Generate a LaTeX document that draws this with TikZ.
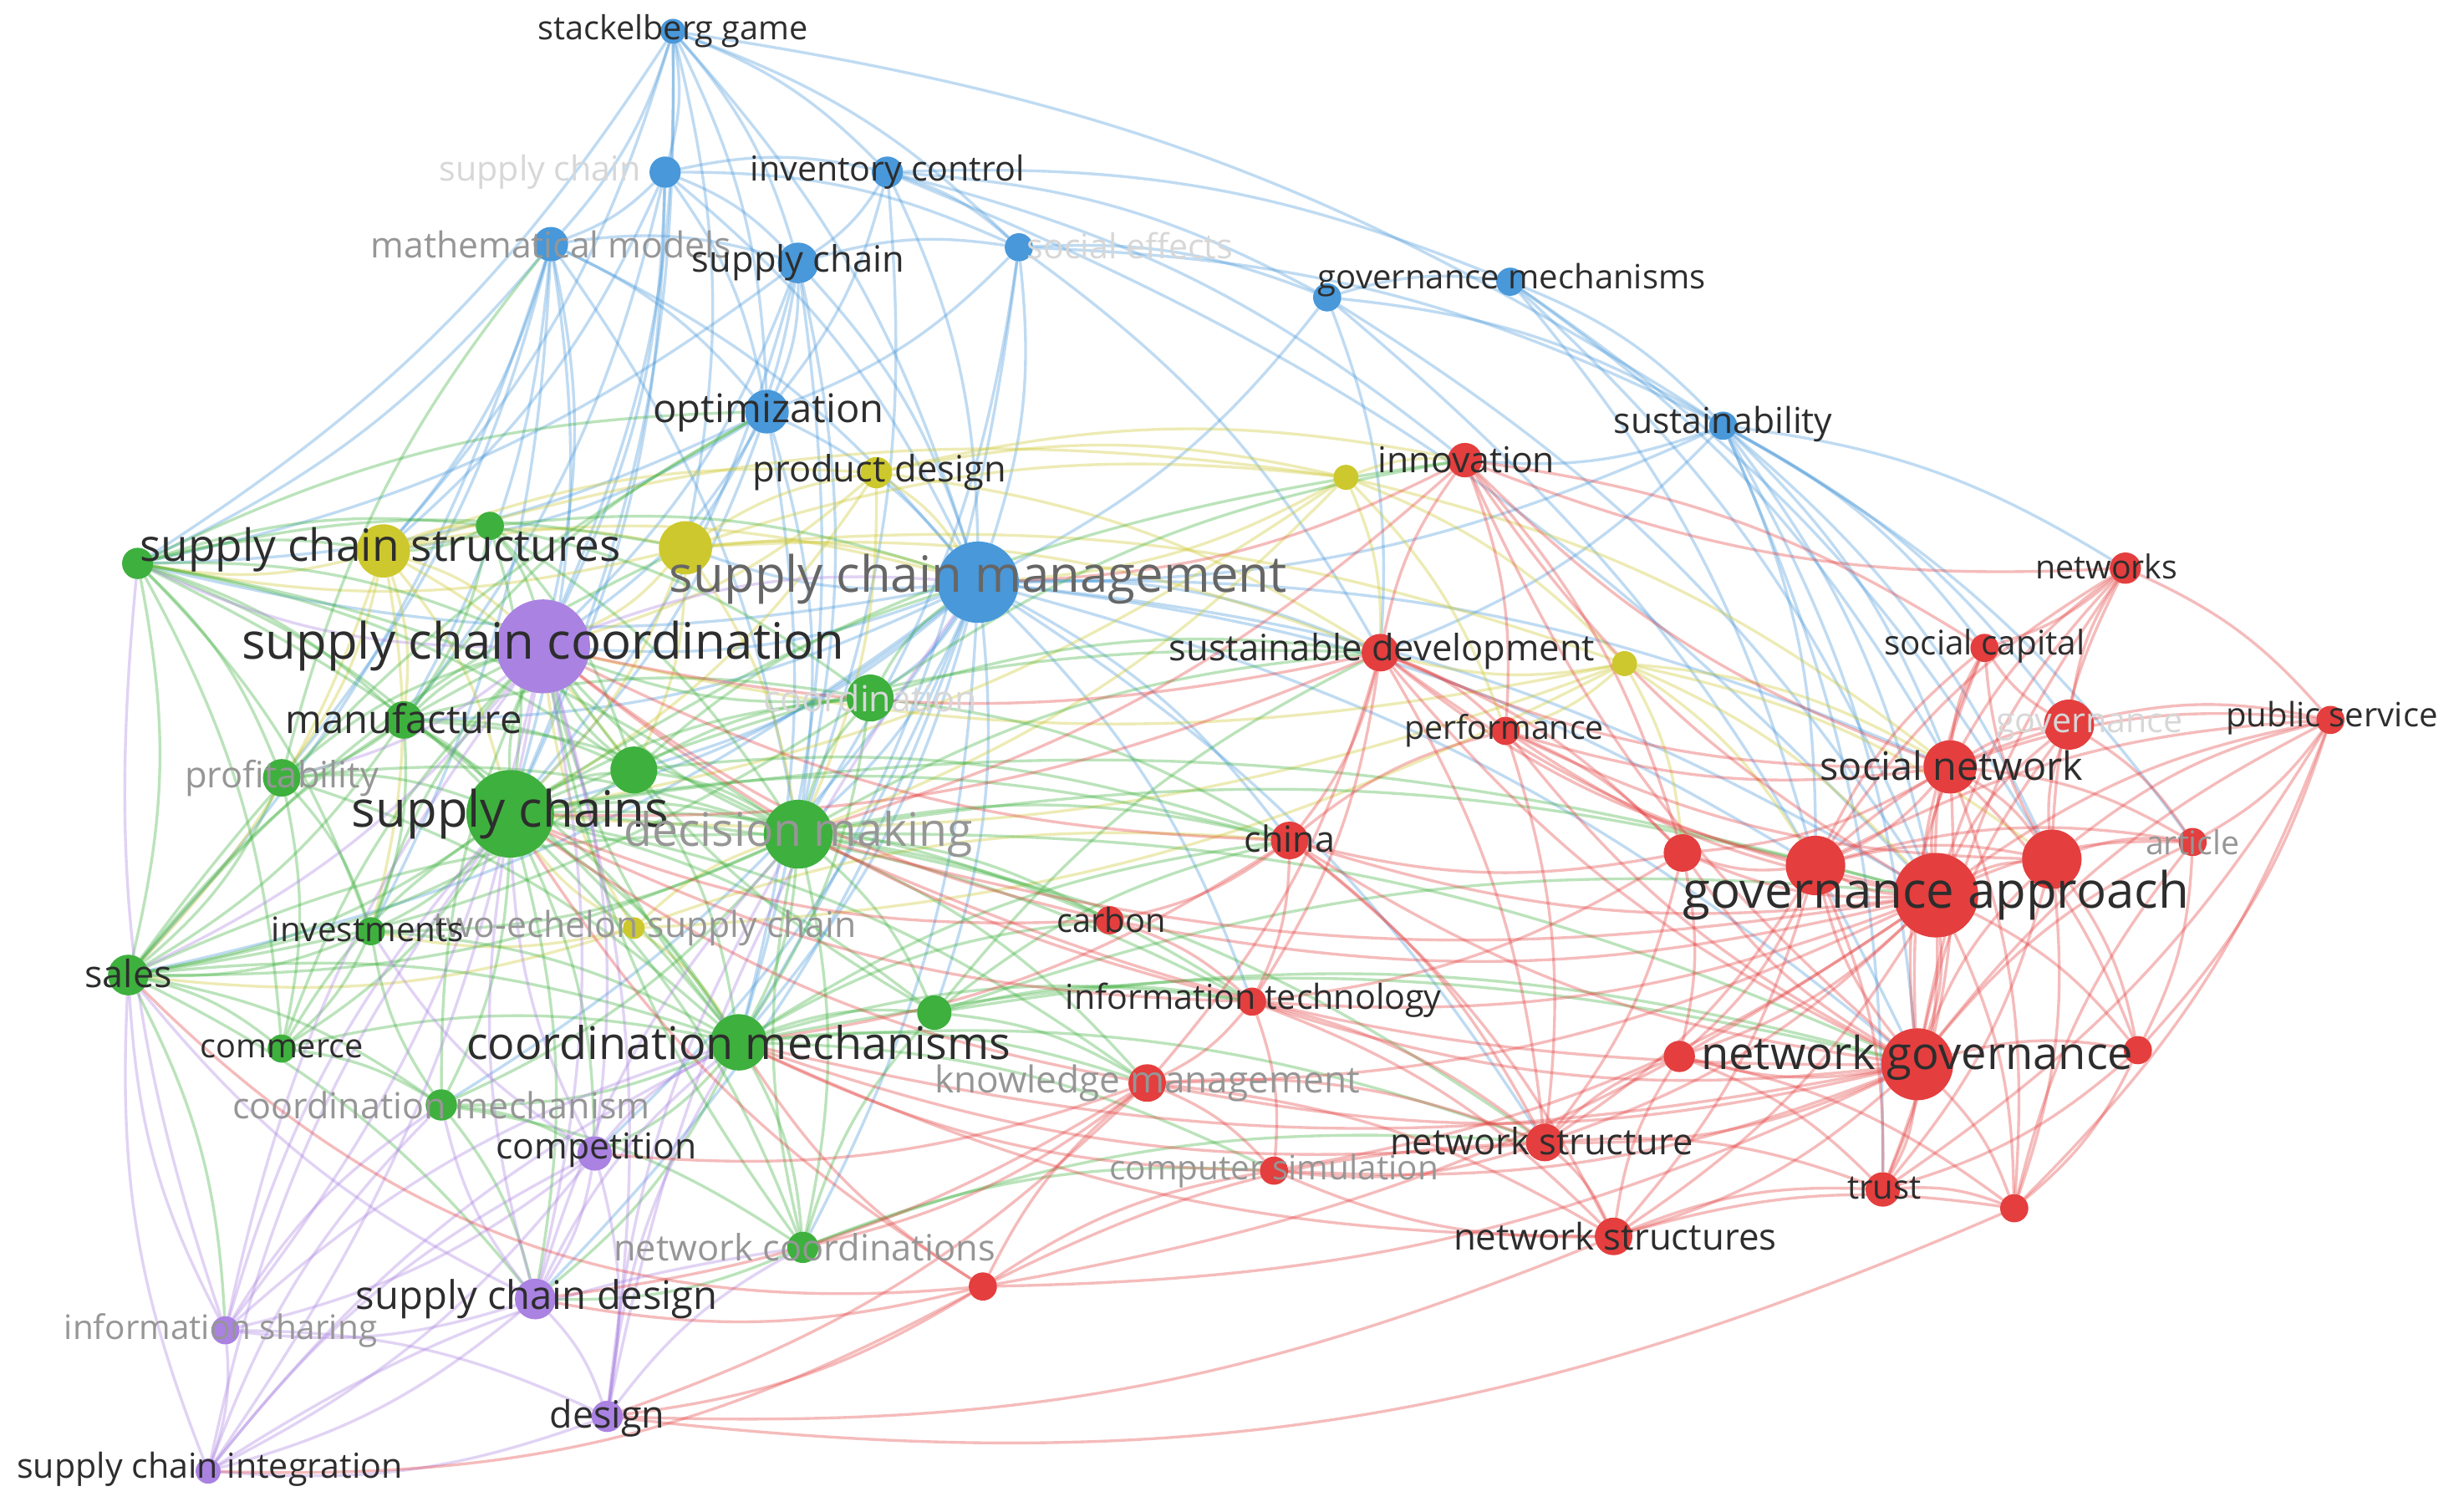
\documentclass[tikz,border=0pt]{standalone}
\usepackage{fontspec}
\setmainfont{Open Sans}
\usetikzlibrary{backgrounds}
\definecolor{cB}{RGB}{72,152,218}
\definecolor{cY}{RGB}{205,200,45}
\definecolor{cG}{RGB}{62,176,62}
\definecolor{cP}{RGB}{170,130,225}
\definecolor{cR}{RGB}{228,62,62}
\definecolor{lbdark}{RGB}{45,45,45}
\definecolor{lbfade}{RGB}{150,150,150}
\definecolor{lbvfade}{RGB}{215,215,215}
\newcommand\kfs[1]{\fontsize{#1}{#1}\selectfont}
\tikzset{
 nd/.style={circle, inner sep=0pt, outer sep=0pt, draw=none},
 lb/.style={inner sep=0pt, text=lbdark},
 fd/.style={inner sep=0pt, text=lbfade},
 vf/.style={inner sep=0pt, text=lbvfade},
 eB/.style={draw=cB, draw opacity=0.35, line width=0.9pt},
 eY/.style={draw=cY, draw opacity=0.35, line width=0.9pt},
 eG/.style={draw=cG, draw opacity=0.35, line width=0.9pt},
 eP/.style={draw=cP, draw opacity=0.35, line width=0.9pt},
 eR/.style={draw=cR, draw opacity=0.35, line width=0.9pt},
}
\begin{document}
\begin{tikzpicture}[x=0.5pt,y=-0.5pt]
\useasboundingbox (0,0) rectangle (1568,966);
% ---------- nodes ----------
% blue
\node[nd, fill=cB, minimum size=8pt]  (B1)  at (430,20)  {};
\node[nd, fill=cB, minimum size=10pt] (B2)  at (425,110) {};
\node[nd, fill=cB, minimum size=10pt] (B3)  at (567,110) {};
\node[nd, fill=cB, minimum size=11pt] (B4)  at (352,156) {};
\node[nd, fill=cB, minimum size=13pt] (B5)  at (510,168) {};
\node[nd, fill=cB, minimum size=9pt]  (B6)  at (651,158) {};
\node[nd, fill=cB, minimum size=9pt]  (B7)  at (848,190) {};
\node[nd, fill=cB, minimum size=9pt]  (B8)  at (965,180) {};
\node[nd, fill=cB, minimum size=14pt] (B9)  at (490,263) {};
\node[nd, fill=cB, minimum size=9pt]  (B10) at (1101,272) {};
\node[nd, fill=cB, minimum size=26pt] (B11) at (625,372) {};
% yellow
\node[nd, fill=cY, minimum size=17pt] (Y1) at (245,352) {};
\node[nd, fill=cY, minimum size=17pt] (Y2) at (438,350) {};
\node[nd, fill=cY, minimum size=10pt] (Y3) at (560,302) {};
\node[nd, fill=cY, minimum size=8pt]  (Y4) at (860,305) {};
\node[nd, fill=cY, minimum size=8pt]  (Y5) at (1038,424) {};
\node[nd, fill=cY, minimum size=7pt]  (Y6) at (405,593) {};
% green
\node[nd, fill=cG, minimum size=10pt] (G1)  at (88,360) {};
\node[nd, fill=cG, minimum size=9pt]  (G2)  at (313,336) {};
\node[nd, fill=cG, minimum size=12pt] (G3)  at (258,460) {};
\node[nd, fill=cG, minimum size=12pt] (G4)  at (180,497) {};
\node[nd, fill=cG, minimum size=28pt] (G5)  at (326,520) {};
\node[nd, fill=cG, minimum size=15pt] (G6)  at (405,492) {};
\node[nd, fill=cG, minimum size=22pt] (G7)  at (510,533) {};
\node[nd, fill=cG, minimum size=15pt] (G8)  at (556,446) {};
\node[nd, fill=cG, minimum size=9pt]  (G9)  at (237,595) {};
\node[nd, fill=cG, minimum size=13pt] (G10) at (82,623) {};
\node[nd, fill=cG, minimum size=9pt]  (G11) at (180,670) {};
\node[nd, fill=cG, minimum size=18pt] (G12) at (472,666) {};
\node[nd, fill=cG, minimum size=11pt] (G13) at (597,647) {};
\node[nd, fill=cG, minimum size=10pt] (G14) at (282,706) {};
\node[nd, fill=cG, minimum size=10pt] (G15) at (513,797) {};
% purple
\node[nd, fill=cP, minimum size=30pt] (P1) at (347,413) {};
\node[nd, fill=cP, minimum size=11pt] (P2) at (380,737) {};
\node[nd, fill=cP, minimum size=13pt] (P3) at (342,830) {};
\node[nd, fill=cP, minimum size=9pt]  (P4) at (144,850) {};
\node[nd, fill=cP, minimum size=10pt] (P5) at (388,905) {};
\node[nd, fill=cP, minimum size=8pt]  (P6) at (133,940) {};
% red
\node[nd, fill=cR, minimum size=11pt] (R1)  at (936,294) {};
\node[nd, fill=cR, minimum size=10pt] (R2)  at (1358,363) {};
\node[nd, fill=cR, minimum size=9pt]  (R3)  at (1268,414) {};
\node[nd, fill=cR, minimum size=12pt] (R4)  at (882,417) {};
\node[nd, fill=cR, minimum size=9pt]  (R5)  at (962,467) {};
\node[nd, fill=cR, minimum size=16pt] (R6)  at (1322,463) {};
\node[nd, fill=cR, minimum size=9pt]  (R7)  at (1489,460) {};
\node[nd, fill=cR, minimum size=17pt] (R8)  at (1246,490) {};
\node[nd, fill=cR, minimum size=12pt] (R9)  at (824,537) {};
\node[nd, fill=cR, minimum size=12pt] (R10) at (1075,545) {};
\node[nd, fill=cR, minimum size=19pt] (R11) at (1160,553) {};
\node[nd, fill=cR, minimum size=27pt] (R12) at (1237,572) {};
\node[nd, fill=cR, minimum size=19pt] (R13) at (1311,549) {};
\node[nd, fill=cR, minimum size=9pt]  (R14) at (1401,538) {};
\node[nd, fill=cR, minimum size=9pt]  (R15) at (709,588) {};
\node[nd, fill=cR, minimum size=9pt]  (R16) at (800,640) {};
\node[nd, fill=cR, minimum size=12pt] (R17) at (733,692) {};
\node[nd, fill=cR, minimum size=10pt] (R18) at (1073,675) {};
\node[nd, fill=cR, minimum size=23pt] (R19) at (1225,680) {};
\node[nd, fill=cR, minimum size=9pt]  (R20) at (1366,671) {};
\node[nd, fill=cR, minimum size=12pt] (R21) at (987,730) {};
\node[nd, fill=cR, minimum size=9pt]  (R22) at (814,748) {};
\node[nd, fill=cR, minimum size=11pt] (R23) at (1203,760) {};
\node[nd, fill=cR, minimum size=9pt]  (R24) at (1287,772) {};
\node[nd, fill=cR, minimum size=12pt] (R25) at (1031,790) {};
\node[nd, fill=cR, minimum size=9pt]  (R26) at (628,822) {};
% ---------- edges ----------
\begin{pgfonlayer}{background}
\fill[white] (0,0) rectangle (1568,966);
\foreach \a/\b in {B1/B2,B1/B3,B1/B4,B1/B5,B1/B9,B1/B11,B1/P1,B1/G5,B1/B6,B1/Y1,B1/B10,B1/G1,B1/Y2,
 B2/B3,B2/B4,B2/B5,B2/B9,B2/B11,B2/B6,B2/P1,B2/G5,B2/Y1,B2/G3,
 B3/B5,B3/B6,B3/B9,B3/B11,B3/B8,B3/R12,B3/R1,B3/B7,B3/G7,
 B4/B5,B4/B9,B4/P1,B4/G5,B4/Y1,B4/G1,B4/B11,B4/G7,B4/G3,B4/G10,B4/G4,B4/G9,
 B5/B9,B5/B11,B5/P1,B5/G5,B5/G7,B5/G12,B5/B6,B5/Y2,B5/G1,
 B6/B11,B6/B9,B6/B7,B6/G7,B6/R4,B6/B10,B6/G12,
 B7/B8,B7/B11,B7/B10,B7/R12,B8/B10,B8/R8,B8/R12,B7/R19,B8/R13,B8/R11,B7/R4,
 B9/B11,B9/P1,B9/G5,B9/G7,B9/G12,B9/Y1,B9/G1,
 B10/R12,B10/R8,B10/R19,B10/R1,B10/R2,B10/R11,B10/R23,B10/B11,B10/R13,B10/R6,B10/R4,B10/R14,B10/R3,
 B11/P1,B11/G5,B11/G7,B11/G12,B11/R4,B11/R9,B11/R12,B11/G8,B11/G15,B11/P3,B11/R16,
 B11/G13,B11/Y2,B11/G3,B11/G6,B11/R11,B11/G1,B11/G10,B11/R19,B11/R8,B11/R21,B11/P2,B11/G14}
 \draw[eB] (\a) to[bend left=12] (\b);
\foreach \a/\b in {Y1/P1,Y1/G5,Y1/G1,Y1/G3,Y1/Y2,Y1/B11,Y1/G4,Y1/Y3,Y1/Y4,Y1/G9,Y1/G2,Y1/G10,Y1/G6,
 Y2/P1,Y2/G5,Y2/G7,Y2/Y3,Y2/B11,Y2/Y4,Y2/R4,Y2/G1,Y2/Y5,Y2/G6,
 Y3/B11,Y3/Y4,Y3/P1,Y3/G5,Y3/R1,Y3/G7,Y3/R4,
 Y4/R1,Y4/B11,Y4/Y5,Y4/R4,Y4/G7,Y4/G5,Y4/R8,Y4/R5,
 Y5/R4,Y5/R8,Y5/G5,Y5/R12,Y5/Y6,Y5/P1,Y5/R5,Y5/R10,Y5/R11,Y5/R13,
 Y6/G5,Y6/P1,Y6/G12,Y6/G7,Y6/G9,Y6/G10,Y6/R9}
 \draw[eY] (\a) to[bend left=12] (\b);
\foreach \a/\b in {G1/P1,G1/G5,G1/G3,G1/G4,G1/G10,G1/Y1,G1/G7,G1/G12,G1/G11,G1/G9,G1/G2,G1/G6,G1/B9,G1/Y2,
 G2/P1,G2/G5,G2/Y1,G2/B11,G2/G7,G2/G3,G2/G6,G2/G8,
 G3/G5,G3/P1,G3/G4,G3/G7,G3/G12,G3/G10,G3/G6,G3/G9,G3/G8,G3/B9,
 G4/G5,G4/P1,G4/G10,G4/G12,G4/G7,G4/G11,G4/G9,G4/B4,
 G5/P1,G5/G6,G5/G7,G5/G8,G5/G9,G5/G10,G5/G11,G5/G12,G5/G13,G5/G14,G5/G15,G5/R9,G5/R15,
 G5/R16,G5/P2,G5/P3,G5/R4,G5/R17,G5/R1,G5/R12,
 G6/P1,G6/G7,G6/G12,G6/G8,G6/B11,G6/G10,G6/R9,
 G7/P1,G7/G8,G7/G12,G7/G13,G7/G9,G7/G10,G7/R9,G7/R15,G7/R16,G7/R17,G7/R4,G7/G14,G7/G15,G7/R12,G7/R19,G7/R21,
 G8/P1,G8/G12,G8/B11,G8/R4,G8/R9,G8/G10,G8/R1,
 G9/G10,G9/G12,G9/G11,G9/P1,
 G10/G11,G10/G12,G10/P1,G10/G14,G10/P3,G10/P4,G10/G7,G10/B9,G10/Y2,
 G11/G12,G11/G14,G11/P1,G11/G5,
 G12/P1,G12/G13,G12/G14,G12/G15,G12/P2,G12/P3,G12/R16,G12/R17,G12/R15,G12/R9,G12/R21,G12/R19,G12/R22,
 G13/P1,G13/R16,G13/R17,G13/R19,G13/R12,G13/R9,G13/R4,
 G14/P1,G14/P2,G14/P3,G14/G15,G14/G9,
 G15/P1,G15/P3,G15/R22,G15/R21,G15/G7,G15/G13}
 \draw[eG] (\a) to[bend left=12] (\b);
\foreach \a/\b in {P1/P2,P1/P3,P1/P4,P1/P5,P1/P6,P1/B11,P1/G10,P1/G1,P1/G4,
 P2/P3,P2/P4,P2/P5,P2/G5,P2/G12,P2/P6,P2/G9,
 P3/P4,P3/P5,P3/P6,P3/G5,P3/G12,P3/G7,P3/G10,P3/G14,
 P4/P6,P4/P5,P4/G10,P4/G5,P4/P1,P4/G12,P4/G14,P4/G1,
 P5/P6,P5/G12,P5/B11,P5/G7,P5/G15,
 P6/G10,P6/G5,P6/G12,P6/P2,P6/G14,P6/G15}
 \draw[eP] (\a) to[bend left=12] (\b);
\foreach \a/\b in {R12/R1,R12/R2,R12/R3,R12/R4,R12/R5,R12/R6,R12/R7,R12/R8,R12/R9,R12/R10,
 R12/R11,R12/R13,R12/R14,R12/R15,R12/R16,R12/R17,R12/R18,R12/R19,R12/R20,R12/R21,R12/R22,
 R12/R23,R12/R24,R12/R25,R12/R26,R12/G7,
 R19/R1,R19/R2,R19/R3,R19/R4,R19/R5,R19/R6,R19/R7,R19/R8,R19/R9,R19/R10,R19/R11,R19/R13,
 R19/R14,R19/R16,R19/R17,R19/R18,R19/R20,R19/R21,R19/R22,R19/R23,R19/R24,R19/R25,R19/R26,R19/G12,R19/G7,
 R8/R2,R8/R3,R8/R6,R8/R7,R8/R11,R8/R13,R8/R14,R8/R10,R8/R1,R8/R4,R8/R23,R8/R20,R8/R24,R8/R5,
 R11/R13,R11/R10,R11/R6,R11/R2,R11/R18,R11/R21,R11/R25,R11/R23,R11/R4,R11/R3,R11/R14,R11/R7,
 R13/R6,R13/R2,R13/R7,R13/R14,R13/R20,R13/R24,R13/R23,R13/R5,R13/R3,
 R6/R2,R6/R3,R6/R7,R6/R14,R2/R7,R2/R3,R2/R1,R7/R14,R7/R20,R7/R24,R7/R23,
 R4/R1,R4/R5,R4/R9,R4/R16,R4/R17,R4/R21,R4/R10,R4/P1,R4/G5,
 R9/R15,R9/R16,R9/R5,R9/R21,R9/R25,R9/G12,R9/P1,R10/R16,R10/R9,
 R15/R16,R15/P1,R15/G5,R16/R17,R16/R22,R16/R21,R16/R25,R16/G5,R16/P1,
 R17/R22,R17/R21,R17/R25,R17/G15,R17/P5,R17/P3,R17/G5,R17/P2,
 R21/R25,R21/R22,R21/R23,R21/R18,R21/G12,
 R25/R23,R25/R24,R25/R22,R25/R18,R25/G12,R22/G12,
 R26/G5,R26/R17,R26/R22,R26/R21,R26/P3,R26/G12,R26/P5,
 R1/R5,R1/R10,R1/B11,R1/R3,R1/G7,R23/R24,R18/R23,R20/R24,R10/R18,R5/R10,R5/R21,R10/R21,
 R14/R20,R20/R23,R18/R24,R24/R14}
 \draw[eR] (\a) to[bend left=12] (\b);
\draw[eR] (P5) to[bend right=15] (R24);
\draw[eR] (P5) to[bend right=12] (R25);
\draw[eR] (P6) to[bend right=15] (R26);
\draw[eR] (G10) to[bend right=25] (R26);
\end{pgfonlayer}
% ---------- labels ----------
\node[lb, font=\kfs{10.6}] (lB1) at (430,20) {stackelberg game};
\node[vf, font=\kfs{11}] (lB2) at (345,110) {supply chain};
\node[lb, font=\kfs{11}] (lB3) at (567,110) {inventory control};
\node[fd, font=\kfs{11.4}] (lB4) at (352,156) {mathematical models};
\node[lb, font=\kfs{11.6}] (lB5) at (510,168) {supply chain};
\node[vf, font=\kfs{11}] (lB6) at (722,157) {social effects};
\node[lb, font=\kfs{10.7}] (lB8) at (966,179) {governance mechanisms};
\node[lb, font=\kfs{12.6}] (lB9) at (491,264) {optimization};
\node[lb, font=\kfs{11.4}] (lB10) at (1101,271) {sustainability};
\node[text=gray!80!black, inner sep=0pt, font=\kfs{16}] (lB11) at (625,370) {supply chain management};
\node[lb, font=\kfs{14.2}] (lY1) at (243,351) {supply chain structures};
\node[lb, font=\kfs{11.6}] (lY3) at (562,302) {product design};
\node[fd, font=\kfs{11.4}] (lY6) at (412,593) {two-echelon supply chain};
\node[lb, font=\kfs{12.6}] (lG3) at (258,459) {manufacture};
\node[fd, font=\kfs{11.6}] (lG4) at (180,497) {profitability};
\node[lb, font=\kfs{16}] (lG5) at (326,520) {supply chains};
\node[fd, font=\kfs{14.8}] (lG7) at (510,533) {decision making};
\node[vf, font=\kfs{11.5}] (lG8) at (556,446) {coordination};
\node[lb, font=\kfs{10.8}] (lG9) at (235,594) {investments};
\node[lb, font=\kfs{12}] (lG10) at (82,622) {sales};
\node[lb, font=\kfs{10.6}] (lG11) at (180,670) {commerce};
\node[lb, font=\kfs{14.4}] (lG12) at (472,666) {coordination mechanisms};
\node[fd, font=\kfs{11.5}] (lG14) at (282,706) {coordination mechanism};
\node[fd, font=\kfs{11.6}] (lG15) at (514,797) {network coordinations};
\node[lb, font=\kfs{16}] (lP1) at (347,413) {supply chain coordination};
\node[lb, font=\kfs{11.4}] (lP2) at (381,735) {competition};
\node[lb, font=\kfs{12.6}] (lP3) at (343,830) {supply chain design};
\node[fd, font=\kfs{10.8}] (lP4) at (141,850) {information sharing};
\node[lb, font=\kfs{12}] (lP5) at (388,906) {design};
\node[lb, font=\kfs{11}] (lP6) at (134,939) {supply chain integration};
\node[lb, font=\kfs{11.4}] (lR1) at (937,294) {innovation};
\node[lb, font=\kfs{10.5}] (lR2) at (1346,362) {networks};
\node[lb, font=\kfs{10.8}] (lR3) at (1268,413) {social capital};
\node[lb, font=\kfs{11.6}] (lR4) at (883,416) {sustainable development};
\node[lb, font=\kfs{10.5}] (lR5) at (961,467) {performance};
\node[vf, font=\kfs{11}] (lR6) at (1335,465) {governance};
\node[lb, font=\kfs{10.7}] (lR7) at (1490,459) {public service};
\node[lb, font=\kfs{12.5}] (lR8) at (1247,489) {social network};
\node[lb, font=\kfs{11.5}] (lR9) at (824,536) {china};
\node[lb, font=\kfs{16}] (lR12) at (1237,572) {governance approach};
\node[fd, font=\kfs{10.5}] (lR14) at (1401,538) {article};
\node[lb, font=\kfs{10.6}] (lR15) at (710,588) {carbon};
\node[lb, font=\kfs{11}] (lR16) at (801,639) {information technology};
\node[fd, font=\kfs{11.8}] (lR17) at (733,692) {knowledge management};
\node[lb, font=\kfs{14.5}] (lR19) at (1225,676) {network governance};
\node[lb, font=\kfs{11.6}] (lR21) at (985,729) {network structure};
\node[fd, font=\kfs{10.8}] (lR22) at (814,748) {computer simulation};
\node[lb, font=\kfs{10.7}] (lR23) at (1204,759) {trust};
\node[lb, font=\kfs{11.7}] (lR25) at (1032,790) {network structures};
\end{tikzpicture}
\end{document}
